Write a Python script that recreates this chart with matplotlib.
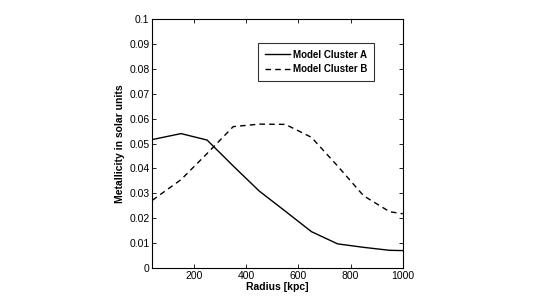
import numpy as np
from matplotlib import pyplot as plt

plt.rcParams['font.family'] = ['Liberation Sans', 'DejaVu Sans']

radius = [40, 150, 250, 350, 450, 550, 650, 750, 850, 950, 1000]
cluster_a = [0.0516, 0.0540, 0.0514, 0.0410, 0.0309, 0.0228, 0.0146, 0.0097, 0.0083, 0.0071, 0.0070]
cluster_b = [0.0272, 0.0355, 0.0460, 0.0568, 0.0578, 0.0577, 0.0525, 0.0410, 0.0290, 0.0226, 0.0218]

fig = plt.figure(figsize=(5.45, 3.03), dpi=100)
ax = fig.add_axes([0.2795, 0.1155, 0.4595, 0.8215])

ax.plot(radius, cluster_a, '-k', lw=1.0, label='Model Cluster A')
ax.plot(radius, cluster_b, '--k', lw=1.0, dashes=(4, 3), label='Model Cluster B')

ax.set_xlim(40, 1000)
ax.set_ylim(0, 0.1)
ax.set_xticks([200, 400, 600, 800, 1000])
ax.set_yticks(np.arange(0, 0.101, 0.01))
ax.set_yticklabels(['0', '0.01', '0.02', '0.03', '0.04', '0.05', '0.06', '0.07', '0.08', '0.09', '0.1'])
ax.tick_params(direction='in', top=True, right=True, labelsize=7.5, length=3, width=0.6, pad=2)
for s in ax.spines.values():
    s.set_linewidth(0.8)

ax.set_xlabel('Radius [kpc]', fontsize=7.5, fontweight='bold', labelpad=1)
ax.set_ylabel('Metallicity in solar units', fontsize=7.5, fontweight='bold', labelpad=3)

leg = ax.legend(loc='upper right', bbox_to_anchor=(0.885, 0.905),
                prop={'weight': 'bold', 'size': 7}, frameon=True, fancybox=False,
                handlelength=2.6, handletextpad=0.3, borderpad=0.7, labelspacing=0.5,
                borderaxespad=0)
leg.get_frame().set_edgecolor('k')
leg.get_frame().set_linewidth(0.8)

plt.savefig('out.png')
